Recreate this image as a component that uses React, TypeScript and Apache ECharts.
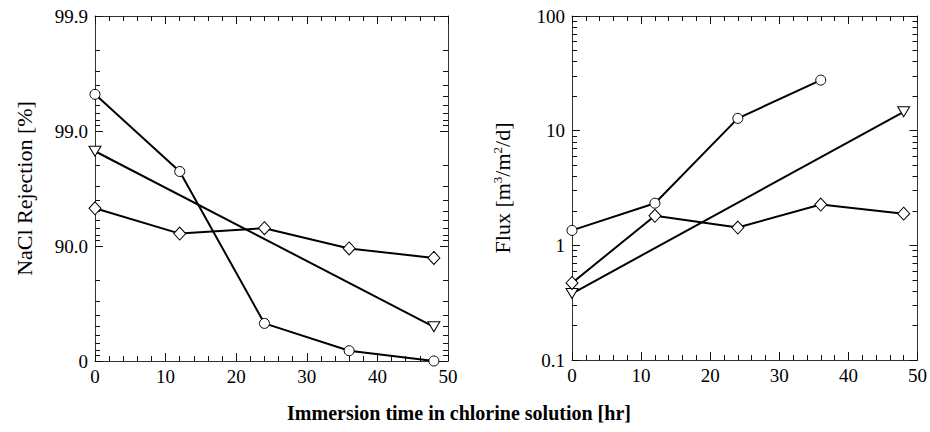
import React, { useEffect, useRef } from 'react';
import * as echarts from 'echarts';

// ---- data ----
const hours = [0, 12, 24, 36, 48];
const twoPointHours = [0, 48];
const fluxCircleHours = [0, 12, 24, 36];

// NaCl rejection [%]
const rejCircle = [99.52, 97.75, 52.9, 18.6, 0];
const rejDiamond = [95.3, 92.2, 93.0, 89.5, 87.3];
const rejTriangle = [98.5, 49.6];

// Flux [m3/m2/d]
const fluxCircle = [1.35, 2.33, 12.8, 27.6];
const fluxDiamond = [0.47, 1.81, 1.43, 2.27, 1.89];
const fluxTriangle = [0.38, 14.6];

// tick labels
const rejTickLabels: Record<string, string> = { '100': '0', '10': '90.0', '1': '99.0', '0.1': '99.9' };
const fluxTickLabels: Record<string, string> = { '0.1': '0.1', '1': '1', '10': '10', '100': '100' };
const minorLogTicks = [0.2, 0.3, 0.4, 0.5, 0.6, 0.7, 0.8, 0.9, 2, 3, 4, 5, 6, 7, 8, 9, 20, 30, 40, 50, 60, 70, 80, 90];

const xTitle = 'Immersion time in chlorine solution [hr]';

const FONT = '"Liberation Serif", "Times New Roman", serif';
const AXIS_COLOR = '#333';
const TICK_COLOR = '#111';

const xAxisFor = (gridIndex: number, position: 'bottom' | 'top', labels: boolean) => ({
  type: 'value',
  gridIndex,
  position,
  min: 0,
  max: 50,
  interval: 10,
  axisLine: { show: true, onZero: false, lineStyle: { color: AXIS_COLOR, width: 1 } },
  axisTick: { show: true, inside: true, length: 8, lineStyle: { color: TICK_COLOR, width: 1 } },
  minorTick: { show: true, splitNumber: 5, length: 5, lineStyle: { color: TICK_COLOR, width: 1 } },
  axisLabel: { show: labels, margin: 6, color: '#000', fontFamily: FONT, fontSize: 19 },
  splitLine: { show: false },
});

const yMajor = (
  gridIndex: number,
  position: 'left' | 'right',
  inverse: boolean,
  labels: Record<string, string> | null,
  name: string,
  nameGap: number,
) => ({
  type: 'log',
  logBase: 10,
  gridIndex,
  position,
  inverse,
  min: 0.1,
  max: 100,
  name: name,
  nameLocation: 'middle',
  nameGap,
  nameTextStyle: {
    color: '#000',
    fontFamily: FONT,
    fontSize: 22,
    rich: {
      sup: { fontSize: 13, fontFamily: FONT, color: '#000', verticalAlign: 'top', padding: [0, 0, 10, 0] },
    },
  },
  axisLine: { show: true, onZero: false, lineStyle: { color: AXIS_COLOR, width: 1 } },
  axisTick: { show: true, inside: true, length: 8, lineStyle: { color: TICK_COLOR, width: 1 } },
  axisLabel: {
    show: !!labels,
    margin: 7,
    color: '#000',
    fontFamily: FONT,
    fontSize: 19,
    formatter: (v: number) => (labels ? labels[String(Math.round(v * 1000) / 1000)] ?? '' : ''),
  },
  splitLine: { show: false },
});

const yMinor = (gridIndex: number, position: 'left' | 'right', inverse: boolean) => ({
  type: 'log',
  logBase: 10,
  gridIndex,
  position,
  inverse,
  min: 0.1,
  max: 100,
  axisLine: { show: false, onZero: false },
  axisTick: { show: true, inside: true, length: 5, customValues: minorLogTicks, lineStyle: { color: TICK_COLOR, width: 1 } },
  axisLabel: { show: false },
  splitLine: { show: false },
});

const lineStyle = { color: '#000', width: 2 };
const itemStyle = { color: '#fff', borderColor: '#000', borderWidth: 1 };

const mk = (
  xIdx: number,
  yIdx: number,
  xs: number[],
  ys: number[],
  symbol: string,
  size: number | number[],
  rotate = 0,
) => ({
  type: 'line',
  xAxisIndex: xIdx,
  yAxisIndex: yIdx,
  data: xs.map((x, i) => [x, ys[i]]),
  symbol,
  symbolSize: size,
  symbolRotate: rotate,
  showSymbol: true,
  clip: false,
  lineStyle,
  itemStyle,
  z: 3,
});

const toPassage = (r: number[]) => r.map((v) => 100 - v);

export default function App() {
  const ref = useRef<HTMLDivElement>(null);
  useEffect(() => {
    if (!ref.current) return;
    const chart = echarts.init(ref.current, undefined, { renderer: 'svg' });
    chart.setOption({
      animation: false,
      grid: [
        { left: 95, top: 16, right: 482, bottom: 71 },
        { left: 572, top: 16, right: 9, bottom: 72 },
      ],
      xAxis: [
        xAxisFor(0, 'bottom', true),
        xAxisFor(0, 'top', false),
        xAxisFor(1, 'bottom', true),
        xAxisFor(1, 'top', false),
      ],
      yAxis: [
        yMajor(0, 'left', true, rejTickLabels, 'NaCl Rejection [%]', 60),
        yMinor(0, 'left', true),
        yMajor(0, 'right', true, null, '', 0),
        yMinor(0, 'right', true),
        yMajor(1, 'left', false, fluxTickLabels, 'Flux [m{sup|3}/m{sup|2}/d]', 58),
        yMinor(1, 'left', false),
        yMajor(1, 'right', false, null, '', 0),
        yMinor(1, 'right', false),
      ],
      graphic: [
        {
          type: 'text',
          x: 459,
          y: 413,
          style: {
            text: xTitle,
            fill: '#000',
            font: `bold 20px ${FONT}`,
            textAlign: 'center',
            textVerticalAlign: 'middle',
          },
        },
      ],
      series: [
        mk(0, 0, hours, toPassage(rejCircle), 'circle', 10),
        mk(0, 0, twoPointHours, toPassage(rejTriangle), 'triangle', [12, 10], 180),
        mk(0, 0, hours, toPassage(rejDiamond), 'diamond', [12, 13]),
        mk(2, 4, fluxCircleHours, fluxCircle, 'circle', 10),
        mk(2, 4, twoPointHours, fluxTriangle, 'triangle', [12, 10], 180),
        mk(2, 4, hours, fluxDiamond, 'diamond', [12, 13]),
      ],
    });
    return () => chart.dispose();
  }, []);
  return (
    <div
      ref={ref}
      style={{ position: 'fixed', left: 0, top: 0, width: 930, height: 432, background: '#fff' }}
    />
  );
}
